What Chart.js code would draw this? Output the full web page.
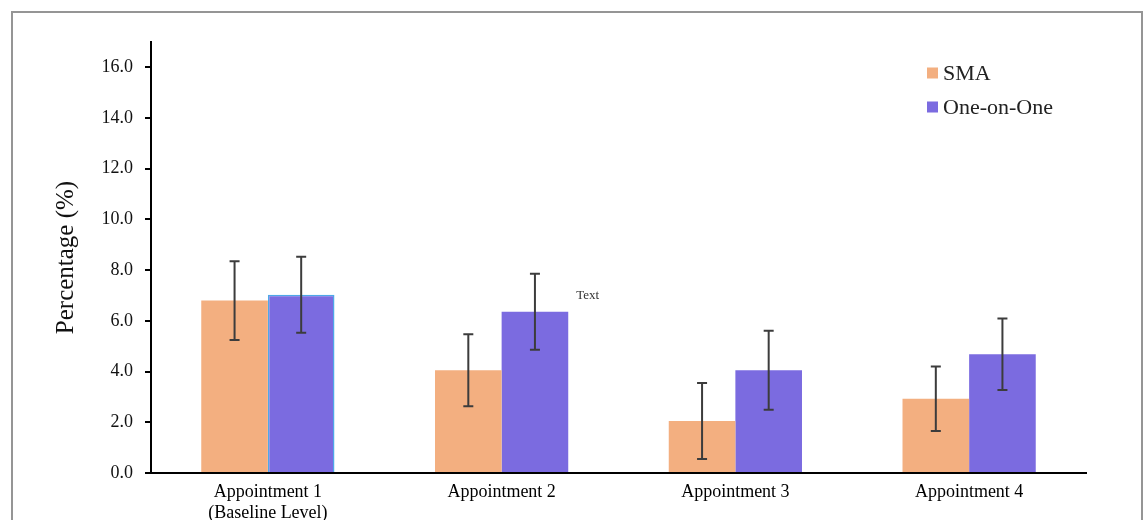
<!DOCTYPE html>
<html>
<head>
<meta charset="utf-8">
<script src="https://cdn.jsdelivr.net/npm/chart.js@4.4.1/dist/chart.umd.min.js"></script>
<style>
  body { margin: 0; background: #fff; overflow: hidden; }
  #frame { position: absolute; left: 11px; top: 11px; width: 1128px; height: 600px; border: 2px solid #959595; }
  #wrap { position: absolute; left: 0; top: 0; width: 1145px; height: 520px; }
</style>
</head>
<body>
<div id="frame"></div>
<div id="wrap"><canvas id="barChart" width="1145" height="520"></canvas></div>
<script>
var categories = [["Appointment 1", "(Baseline Level)"], "Appointment 2", "Appointment 3", "Appointment 4"];
var smaValues = [6.8, 4.05, 2.05, 2.93];
var smaErrors = [1.55, 1.42, 1.5, 1.27];
var oneValues = [7.03, 6.36, 4.05, 4.68];
var oneErrors = [1.5, 1.5, 1.56, 1.41];
var yTicks = [0, 2, 4, 6, 8, 10, 12, 14, 16];

var serif = "'Liberation Serif', 'Times New Roman', serif";
var orange = "#F3AF80";
var purple = "#7B6BE0";

// error bars drawn on top of each bar
var errorBars = {
    id: 'errorBars',
    afterDatasetsDraw: function(chart) {
        var ctx = chart.ctx;
        var y = chart.scales.y;
        ctx.save();
        ctx.strokeStyle = "#3c3c3c";
        ctx.lineWidth = 2;
        chart.data.datasets.forEach(function(ds, i) {
            var meta = chart.getDatasetMeta(i);
            meta.data.forEach(function(bar, j) {
                var top = y.getPixelForValue(ds.data[j] + ds.errors[j]);
                var bot = y.getPixelForValue(ds.data[j] - ds.errors[j]);
                ctx.beginPath();
                ctx.moveTo(bar.x, top); ctx.lineTo(bar.x, bot);
                ctx.moveTo(bar.x - 5, top); ctx.lineTo(bar.x + 5, top);
                ctx.moveTo(bar.x - 5, bot); ctx.lineTo(bar.x + 5, bot);
                ctx.stroke();
            });
        });
        ctx.restore();
    }
};

// vertical legend inside the plot, top right
var boxLegend = {
    id: 'boxLegend',
    afterDraw: function(chart, args, opts) {
        var ctx = chart.ctx;
        ctx.save();
        ctx.font = "22px " + serif;
        ctx.textBaseline = "middle";
        chart.data.datasets.forEach(function(ds, i) {
            var cy = opts.y + i * opts.gap;
            ctx.fillStyle = ds.backgroundColor;
            ctx.fillRect(opts.x, cy - 5.5, 11, 11);
            ctx.fillStyle = "#222";
            ctx.fillText(ds.label, opts.x + 16, cy + 1);
        });
        ctx.restore();
    }
};

// small "Text" note next to appointment 2
var noteText = {
    id: 'noteText',
    afterDraw: function(chart, args, opts) {
        var bar = chart.getDatasetMeta(1).data[opts.index];
        var ctx = chart.ctx;
        ctx.save();
        ctx.font = "13px " + serif;
        ctx.fillStyle = "#333";
        ctx.textBaseline = "middle";
        ctx.fillText(opts.text, bar.x + bar.width / 2 + 8, chart.scales.y.getPixelForValue(opts.value));
        ctx.restore();
    }
};

var ctx = document.getElementById("barChart");
var chart = new Chart(ctx, {
    type: 'bar',
    data: {
        labels: categories,
        datasets: [
            {
                label: "SMA",
                data: smaValues,
                errors: smaErrors,
                backgroundColor: orange,
                borderWidth: 0
            },
            {
                label: "One-on-One",
                data: oneValues,
                errors: oneErrors,
                backgroundColor: purple,
                borderColor: ["#4FA8E8", purple, purple, purple],
                borderWidth: [1.5, 0, 0, 0]
            }
        ]
    },
    options: {
        responsive: false,
        animation: false,
        layout: { padding: { top: 42, right: 59, left: 40, bottom: 0 } },
        datasets: { bar: { categoryPercentage: 0.57, barPercentage: 1 } },
        plugins: {
            legend: { display: false },
            tooltip: { enabled: false },
            boxLegend: { x: 927, y: 73, gap: 34 },
            noteText: { index: 1, value: 7.0, text: "Text" }
        },
        scales: {
            x: {
                grid: { display: false },
                border: { color: "#000", width: 2 },
                ticks: { color: "#000", padding: 0, font: { family: serif, size: 18, lineHeight: 1.2 } },
                afterFit: function(scale) { scale.height = 47; }
            },
            y: {
                min: 0,
                max: 17,
                grid: { drawOnChartArea: false, drawTicks: true, tickLength: 6, color: "#000", lineWidth: 2 },
                border: { color: "#000", width: 2 },
                afterBuildTicks: function(scale) {
                    scale.ticks = yTicks.map(function(v) { return { value: v }; });
                },
                ticks: {
                    color: "#111",
                    padding: 12,
                    font: { family: serif, size: 18 },
                    callback: function(v) { return v.toFixed(1); }
                },
                title: {
                    display: true,
                    text: "Percentage (%)",
                    color: "#111",
                    padding: { top: 11, bottom: 0 },
                    font: { family: serif, size: 25 }
                },
                afterFit: function(scale) { scale.width = 111; }
            }
        }
    },
    plugins: [errorBars, boxLegend, noteText]
});
</script>
</body>
</html>
